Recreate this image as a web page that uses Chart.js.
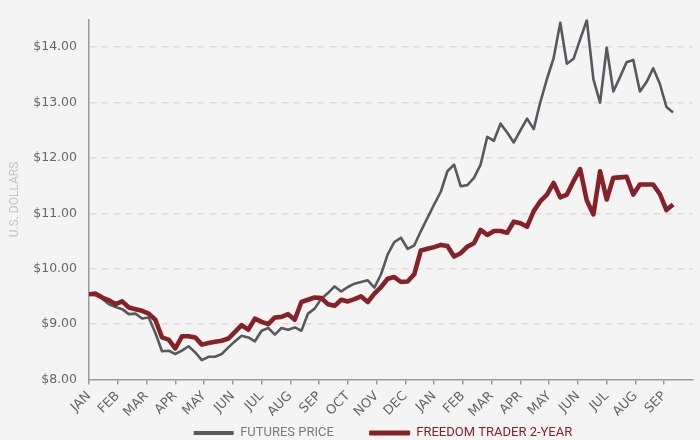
<!DOCTYPE html>
<html>
<head>
<meta charset="utf-8">
<script src="https://cdn.jsdelivr.net/npm/chart.js@4/dist/chart.umd.min.js"></script>
<style>
  html, body { margin: 0; padding: 0; background: #f4f4f4; }
  canvas { display: block; }
</style>
</head>
<body>
<canvas id="chart" width="700" height="440"></canvas>
<script>
// ---- data (weekly closes, x axis measured in months) ----
const months = ['JAN', 'FEB', 'MAR', 'APR', 'MAY', 'JUN', 'JUL', 'AUG', 'SEP', 'OCT', 'NOV', 'DEC',
                'JAN', 'FEB', 'MAR', 'APR', 'MAY', 'JUN', 'JUL', 'AUG', 'SEP'];
const yTicks = [8, 9, 10, 11, 12, 13, 14];
const seriesNames = ['FUTURES PRICE', 'FREEDOM TRADER 2-YEAR'];

const futuresPrice = [
  9.54, 9.52, 9.46, 9.36, 9.31, 9.27, 9.18, 9.19, 9.10, 9.12,
  8.84, 8.51, 8.52, 8.46, 8.52, 8.60, 8.49, 8.35, 8.41, 8.41,
  8.46, 8.58, 8.69, 8.79, 8.76, 8.69, 8.88, 8.93, 8.81, 8.93,
  8.90, 8.94, 8.88, 9.19, 9.28, 9.46, 9.56, 9.68, 9.59, 9.67,
  9.73, 9.76, 9.79, 9.66, 9.90, 10.26, 10.48, 10.56, 10.36, 10.42,
  10.68, 10.92, 11.16, 11.39, 11.76, 11.88, 11.49, 11.51, 11.64, 11.88,
  12.38, 12.31, 12.62, 12.46, 12.28, 12.50, 12.71, 12.52, 13.01, 13.43,
  13.80, 14.44, 13.70, 13.79, 14.14, 14.49, 13.42, 13.00, 13.99, 13.20,
  13.46, 13.73, 13.77, 13.20, 13.37, 13.62, 13.34, 12.92, 12.82
];

const freedomTrader = [
  9.54, 9.55, 9.48, 9.43, 9.36, 9.41, 9.30, 9.27, 9.24, 9.19,
  9.08, 8.76, 8.72, 8.56, 8.78, 8.78, 8.76, 8.63, 8.66, 8.68,
  8.70, 8.74, 8.86, 8.98, 8.90, 9.10, 9.04, 9.00, 9.12, 9.13,
  9.18, 9.08, 9.40, 9.44, 9.48, 9.47, 9.36, 9.33, 9.44, 9.41,
  9.45, 9.50, 9.40, 9.55, 9.67, 9.82, 9.85, 9.76, 9.77, 9.90,
  10.33, 10.36, 10.39, 10.43, 10.41, 10.22, 10.28, 10.40, 10.46, 10.70,
  10.61, 10.68, 10.68, 10.65, 10.85, 10.82, 10.76, 11.04, 11.22, 11.34,
  11.55, 11.29, 11.34, 11.58, 11.80, 11.23, 10.98, 11.76, 11.25, 11.64,
  11.65, 11.66, 11.34, 11.52, 11.52, 11.52, 11.35, 11.06, 11.16
];

const GRAY = '#58595b';
const RED = '#872129';
const WEEK = 12 / 52; // one weekly point, in months

const toPoints = arr => arr.map((v, i) => ({ x: i * WEEK, y: v }));

// legend sits low under the rotated month labels
const legendPlacement = {
  id: 'legendPlacement',
  afterInit(chart) {
    const legend = chart.legend;
    const fit = legend.fit;
    legend.fit = function () {
      fit.call(this);
      this.height = 23.5;
    };
  }
};

new Chart(document.getElementById('chart'), {
  type: 'line',
  data: {
    datasets: [
      {
        label: seriesNames[0],
        data: toPoints(futuresPrice),
        borderColor: GRAY,
        borderWidth: 2.6,
        order: 1
      },
      {
        label: seriesNames[1],
        data: toPoints(freedomTrader),
        borderColor: RED,
        borderWidth: 4.6,
        order: 0
      }
    ]
  },
  options: {
    responsive: false,
    animation: false,
    layout: { padding: { left: 8, right: 7, top: 17, bottom: 0 } },
    elements: {
      point: { radius: 0 },
      line: { tension: 0, fill: false, borderJoinStyle: 'round' }
    },
    plugins: {
      tooltip: { enabled: false },
      legend: {
        position: 'bottom',
        fullSize: false,
        labels: {
          boxWidth: 40,
          boxHeight: 4,
          padding: 10,
          font: { family: 'Roboto', size: 13 },
          generateLabels: chart => chart.data.datasets.map((ds, i) => ({
            // padding spaces: widen the gap and nudge the pair to the left
            text: i === 0 ? ds.label + '        ' : ds.label + '     ',
            fillStyle: ds.borderColor,
            strokeStyle: ds.borderColor,
            lineWidth: i === 1 ? 1 : 0,
            fontColor: i === 1 ? RED : '#7a7a7a',
            hidden: false,
            datasetIndex: i
          }))
        }
      }
    },
    scales: {
      x: {
        type: 'linear',
        min: 0,
        max: 21,
        afterBuildTicks: scale => { scale.ticks = months.map((m, i) => ({ value: i })); },
        afterFit: scale => { scale.height = 37; },
        grid: { drawOnChartArea: false, drawTicks: true, tickLength: 5, color: '#9a9a9a', lineWidth: 1.5 },
        border: { color: '#9a9a9a', width: 1.5 },
        ticks: {
          autoSkip: false,
          minRotation: 45,
          maxRotation: 45,
          padding: 4,
          color: '#666',
          font: { family: 'DejaVu Sans', size: 13 },
          callback: v => months[v]
        }
      },
      y: {
        min: 8,
        max: 14.5,
        afterBuildTicks: scale => { scale.ticks = yTicks.map(v => ({ value: v })); },
        afterFit: scale => { scale.width = 81; },
        grid: {
          drawTicks: false,
          lineWidth: 1.4,
          color: ctx => (ctx.tick && ctx.tick.value === 8) ? 'rgba(0,0,0,0)' : '#dcdcdc'
        },
        border: { color: '#9a9a9a', width: 1.5, dash: [7, 5] },
        ticks: {
          padding: 12,
          color: '#666',
          font: { family: 'DejaVu Sans', size: 12.5 },
          callback: v => '$' + v.toFixed(2)
        },
        title: {
          display: true,
          text: 'U.S. DOLLARS',
          color: '#c4c4c4',
          font: { family: 'Roboto', size: 12 },
          padding: 0
        }
      }
    }
  },
  plugins: [legendPlacement]
});
</script>
</body>
</html>
